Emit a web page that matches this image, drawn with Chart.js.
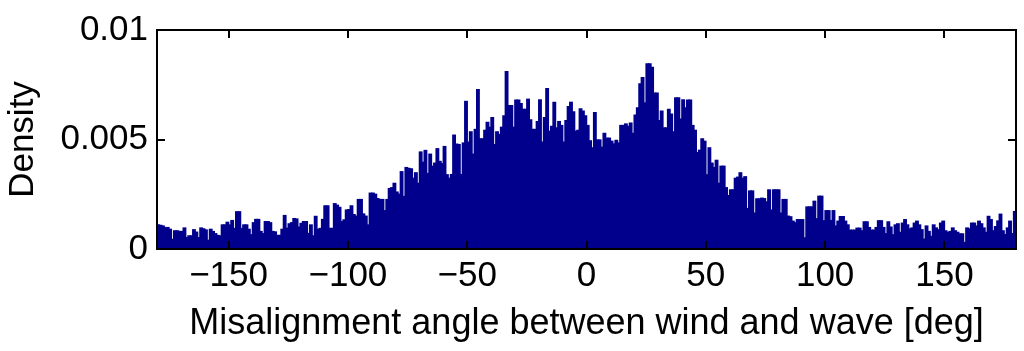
<!DOCTYPE html>
<html>
<head>
<meta charset="utf-8">
<script src="https://cdn.jsdelivr.net/npm/chart.js@4.4.1/dist/chart.umd.min.js"></script>
<style>
  html, body { margin: 0; padding: 0; background: #ffffff; }
  #wrap { width: 1024px; height: 351px; }
</style>
</head>
<body>
<div id="wrap"><canvas id="chart" width="1024" height="351"></canvas></div>
<script>
// histogram: 1 degree bins from -180 to 180
const binStart = -180;
const binWidth = 1;

// densities, left to right
const densityMinus180 = [ // -180 .. -129
    0.0011, 0.00108, 0.00105, 0.00098, 0.00098, 0.0009, 0.00044, 0.00083, 0.00083, 0.0008,
    0.0008, 0.00096, 0.00052, 0.0006, 0.0006, 0.00088, 0.00077, 0.00052, 0.00096, 0.00092,
    0.00087, 0.0004, 0.0009, 0.0008, 0.0007, 0.00062, 0.0006, 0.0011, 0.0011, 0.00122,
    0.0011, 0.0013, 0.00094, 0.0017, 0.0017, 0.00094, 0.0011, 0.0011, 0.0009, 0.00065,
    0.0012, 0.00135, 0.00135, 0.0008, 0.0007, 0.00125, 0.00125, 0.0012, 0.0008, 0.00078,
    0.00062, 0.00062
];
const densityMinus128 = [ // -128 .. -78
    0.0009, 0.00153, 0.00095, 0.00115, 0.0012, 0.00139, 0.00137, 0.001, 0.00117, 0.00125,
    0.00125, 0.00071, 0.0011, 0.0006, 0.00149, 0.0009, 0.00094, 0.00135, 0.00197, 0.00197,
    0.00094, 0.00094, 0.00207, 0.002, 0.0019, 0.00125, 0.00133, 0.00178, 0.0018, 0.00197,
    0.00157, 0.0015, 0.00226, 0.00226, 0.0016, 0.0015, 0.0011, 0.00255, 0.00255, 0.0025,
    0.0023, 0.00226, 0.00226, 0.00175, 0.00226, 0.00276, 0.0028, 0.003, 0.0026, 0.0025,
    0.00353
];
const densityMinus77 = [ // -77 .. -26
    0.0024, 0.00372, 0.00368, 0.00366, 0.00323, 0.00348, 0.003, 0.00443, 0.00396, 0.0045,
    0.00345, 0.00433, 0.00378, 0.00392, 0.00458, 0.004, 0.0039, 0.00468, 0.00339, 0.00323,
    0.0034, 0.0052, 0.00479, 0.00477, 0.0034, 0.00484, 0.00674, 0.00488, 0.00535, 0.00433,
    0.00546, 0.00728, 0.00503, 0.00503, 0.00542, 0.00578, 0.00556, 0.006, 0.00477, 0.00535,
    0.00523, 0.00556, 0.00608, 0.0081, 0.00655, 0.00655, 0.00556, 0.0068, 0.0068, 0.00664,
    0.00638, 0.00638
];
const densityMinus25 = [ // -25 .. 25
    0.00684, 0.0059, 0.00546, 0.00546, 0.00582, 0.00681, 0.00488, 0.006, 0.00732, 0.00538,
    0.0056, 0.0067, 0.00553, 0.00582, 0.00564, 0.00488, 0.00586, 0.0065, 0.0067, 0.00626,
    0.00538, 0.00542, 0.0064, 0.0063, 0.00608, 0.00564, 0.00494, 0.00462, 0.00623, 0.00498,
    0.00498, 0.00465, 0.00528, 0.00506, 0.00506, 0.00492, 0.0048, 0.00496, 0.00484, 0.00564,
    0.00564, 0.00571, 0.0056, 0.00575, 0.00528, 0.00611, 0.00645, 0.00754, 0.00783, 0.00667,
    0.00845
];
const densityPlus26 = [ // 26 .. 77
    0.00845, 0.0083, 0.00712, 0.00712, 0.00586, 0.0063, 0.00553, 0.00553, 0.00638, 0.00616,
    0.00535, 0.0069, 0.0069, 0.00593, 0.00681, 0.00645, 0.0068, 0.0068, 0.00564, 0.00542,
    0.0044, 0.00451, 0.00503, 0.00492, 0.00339, 0.00462, 0.00392, 0.00372, 0.00405, 0.003,
    0.00378, 0.00378, 0.0028, 0.00244, 0.0027, 0.0027, 0.00323, 0.00328, 0.00348, 0.00323,
    0.0033, 0.00185, 0.00265, 0.00265, 0.00164, 0.00229, 0.00229, 0.00232, 0.0023, 0.00215,
    0.0027, 0.00178
];
const densityPlus78 = [ // 78 .. 129
    0.0027, 0.0027, 0.0027, 0.00164, 0.00226, 0.00226, 0.0015, 0.00147, 0.00127, 0.0012,
    0.00134, 0.00134, 0.00134, 0.00051, 0.00192, 0.00192, 0.00192, 0.00218, 0.00138, 0.00241,
    0.00241, 0.00129, 0.00175, 0.00175, 0.0013, 0.00175, 0.00105, 0.00127, 0.00148, 0.00148,
    0.00127, 0.0011, 0.00086, 0.00086, 0.00086, 0.00095, 0.00095, 0.00083, 0.00124, 0.00124,
    0.00098, 0.00086, 0.00086, 0.00098, 0.00129, 0.00129, 0.00098, 0.0007, 0.00124, 0.001,
    0.00065, 0.0011
];
const densityPlus130 = [ // 130 .. 179
    0.00115, 0.00076, 0.00118, 0.00134, 0.0011, 0.00092, 0.00096, 0.00118, 0.00127, 0.0011,
    0.00088, 0.00045, 0.00105, 0.0008, 0.00058, 0.0011, 0.00096, 0.00088, 0.00118, 0.00127,
    0.00083, 0.00076, 0.0008, 0.00096, 0.00083, 0.00076, 0.00069, 0.00069, 0.0003, 0.00096,
    0.00092, 0.00118, 0.00118, 0.00105, 0.00127, 0.00115, 0.00096, 0.00076, 0.00149, 0.00134,
    0.00083, 0.00102, 0.00128, 0.00159, 0.00083, 0.00066, 0.00096, 0.00127, 0.0007, 0.00171
];

const xTicks = [-150, -100, -50, 0, 50, 100, 150];
const xTickLabels = ['\u2212150', '\u2212100', '\u221250', '0', '50', '100', '150'];
const yTicks = [0, 0.005, 0.01];
const yTickLabels = ['0', '0.005', '0.01'];

const FONT = '"Liberation Sans", Arial, Helvetica, sans-serif';
const FONT_SIZE = 35;
const BAR_BLUE = '#00008c';

const density = [].concat(densityMinus180, densityMinus128, densityMinus77,
    densityMinus25, densityPlus26, densityPlus78, densityPlus130);

const points = density.map((d, i) => ({ x: binStart + binWidth * (i + 0.5), y: d }));

// box round the axes with inward ticks, like the original figure
const framePlugin = {
    id: 'frame',
    afterDatasetsDraw(chart) {
        const { ctx, chartArea: a, scales: { x, y } } = chart;
        const tl = 8;
        ctx.save();
        ctx.strokeStyle = '#000';
        ctx.lineWidth = 2;
        ctx.strokeRect(a.left, a.top, a.right - a.left, a.bottom - a.top);
        ctx.beginPath();
        x.ticks.forEach(t => {
            const px = Math.round(x.getPixelForValue(t.value));
            ctx.moveTo(px, a.bottom); ctx.lineTo(px, a.bottom - tl);
            ctx.moveTo(px, a.top); ctx.lineTo(px, a.top + tl);
        });
        y.ticks.forEach(t => {
            const py = Math.round(y.getPixelForValue(t.value));
            ctx.moveTo(a.left, py); ctx.lineTo(a.left + tl, py);
            ctx.moveTo(a.right, py); ctx.lineTo(a.right - tl, py);
        });
        ctx.stroke();
        ctx.restore();
    }
};

new Chart(document.getElementById('chart'), {
    type: 'bar',
    data: {
        datasets: [{
            data: points,
            backgroundColor: BAR_BLUE,
            borderWidth: 0,
            inflateAmount: 0.6,
            barPercentage: 1.12,
            categoryPercentage: 1,
            grouped: false
        }]
    },
    options: {
        responsive: false,
        animation: false,
        events: [],
        layout: { padding: { left: 0, right: 8, top: 20, bottom: 0 } },
        plugins: { legend: { display: false }, tooltip: { enabled: false } },
        scales: {
            x: {
                type: 'linear',
                min: -180,
                max: 180,
                offset: false,
                grid: { display: false, drawTicks: false },
                border: { display: false },
                afterBuildTicks: scale => { scale.ticks = xTicks.map(v => ({ value: v })); },
                afterFit: scale => { scale.height = 102; },
                ticks: {
                    autoSkip: false,
                    maxRotation: 0,
                    padding: 6,
                    color: '#000',
                    font: { family: FONT, size: FONT_SIZE },
                    callback: (v, i) => xTickLabels[i]
                },
                title: {
                    display: true,
                    text: 'Misalignment angle between wind and wave [deg]',
                    color: '#000',
                    font: { family: FONT, size: 36 },
                    padding: { top: 0, bottom: 5 }
                }
            },
            y: {
                min: 0,
                max: 0.01,
                grid: { display: false, drawTicks: false },
                border: { display: false },
                afterBuildTicks: scale => { scale.ticks = yTicks.map(v => ({ value: v })); },
                afterFit: scale => { scale.width = 157; },
                ticks: {
                    padding: 9,
                    color: '#000',
                    font: { family: FONT, size: FONT_SIZE },
                    callback: (v, i) => yTickLabels[i]
                },
                title: {
                    display: true,
                    text: 'Density',
                    color: '#000',
                    font: { family: FONT, size: FONT_SIZE },
                    padding: { top: 2, bottom: 0 }
                }
            }
        }
    },
    plugins: [framePlugin]
});
</script>
</body>
</html>
